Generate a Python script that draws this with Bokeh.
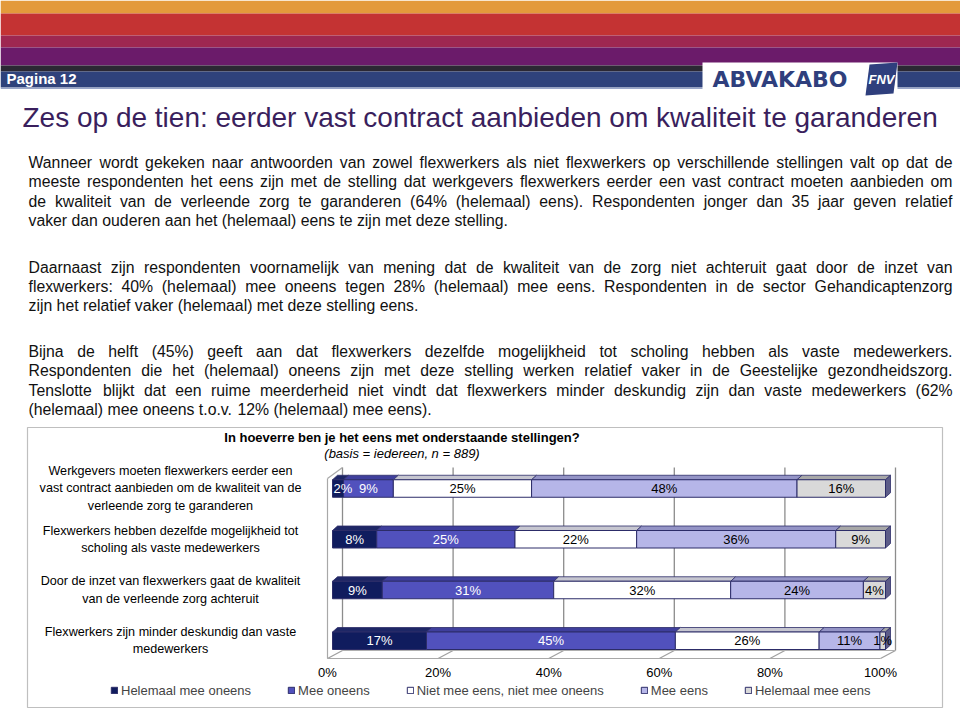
from bokeh.plotting import figure
from bokeh.models import Range1d, ColumnDataSource, Legend, LegendItem
from bokeh.layouts import column
from bokeh.core.properties import value
from bokeh.embed import file_html
from bokeh.resources import INLINE

# ------------------------------------------------------------------ data
page_label = "Pagina 12"
logo_text = "ABVAKABO"
logo_mark = "FNV"
page_title = "Zes op de tien: eerder vast contract aanbieden om kwaliteit te garanderen"

paragraphs = [
    [
        "Wanneer wordt gekeken naar antwoorden van zowel flexwerkers als niet flexwerkers op verschillende stellingen valt op dat de",
        "meeste respondenten het eens zijn met de stelling dat werkgevers flexwerkers eerder een vast contract moeten aanbieden om",
        "de kwaliteit van de verleende zorg te garanderen (64% (helemaal) eens). Respondenten jonger dan 35 jaar geven relatief",
        "vaker dan ouderen aan het (helemaal) eens te zijn met deze stelling.",
    ],
    [
        "Daarnaast zijn respondenten voornamelijk van mening dat de kwaliteit van de zorg niet achteruit gaat door de inzet van",
        "flexwerkers: 40% (helemaal) mee oneens tegen 28% (helemaal) mee eens. Respondenten in de sector Gehandicaptenzorg",
        "zijn het relatief vaker (helemaal) met deze stelling eens.",
    ],
    [
        "Bijna de helft (45%) geeft aan dat flexwerkers dezelfde mogelijkheid tot scholing hebben als vaste medewerkers.",
        "Respondenten die het (helemaal) oneens zijn met deze stelling werken relatief vaker in de Geestelijke gezondheidszorg.",
        "Tenslotte blijkt dat een ruime meerderheid niet vindt dat flexwerkers minder deskundig zijn dan vaste medewerkers (62%",
        "(helemaal) mee oneens t.o.v. 12% (helemaal) mee eens).",
    ],
]

chart_title = "In hoeverre ben je het eens met onderstaande stellingen?"
chart_subtitle = "(basis = iedereen, n = 889)"

statements = [
    "Werkgevers moeten flexwerkers eerder een\nvast contract aanbieden om de kwaliteit van de\nverleende zorg te garanderen",
    "Flexwerkers hebben dezelfde mogelijkheid tot\nscholing als vaste medewerkers",
    "Door de inzet van flexwerkers gaat de kwaliteit\nvan de verleende zorg achteruit",
    "Flexwerkers zijn minder deskundig dan vaste\nmedewerkers",
]
series_names = ["Helemaal mee oneens", "Mee oneens", "Niet mee eens, niet mee oneens",
                "Mee eens", "Helemaal mee eens"]
helemaal_mee_oneens = [2, 8, 9, 17]
mee_oneens = [9, 25, 31, 45]
neutraal = [25, 22, 32, 26]
mee_eens = [48, 36, 24, 11]
helemaal_mee_eens = [16, 9, 4, 1]
tick_values = [0, 20, 40, 60, 80, 100]
tick_labels = ["0%", "20%", "40%", "60%", "80%", "100%"]

# ------------------------------------------------------------------ styles
FONT = "Liberation Sans"
series_colors = ["#101c5e", "#5151bd", "#ffffff", "#b6b6e8", "#d9d9d9"]
top_colors = ["#1e2766", "#3f3f9c", "#c6c6d0", "#9494c6", "#a8a8a8"]
label_colors = ["white", "white", "black", "black", "black"]
OUTLINE = "#2c2c68"

# Arial / Liberation Sans advance widths (per 1000 em)
AW = {' ': 278, '!': 278, '%': 889, '(': 333, ')': 333, ',': 278, '-': 333, '.': 278,
      ':': 278, '?': 556, '=': 584,
      'A': 667, 'B': 667, 'C': 722, 'D': 722, 'E': 667, 'F': 611, 'G': 778, 'H': 722,
      'I': 278, 'J': 500, 'K': 667, 'L': 556, 'M': 833, 'N': 722, 'O': 778, 'P': 667,
      'Q': 778, 'R': 722, 'S': 667, 'T': 611, 'U': 722, 'V': 667, 'W': 944, 'X': 667,
      'Y': 667, 'Z': 611,
      'a': 556, 'b': 556, 'c': 500, 'd': 556, 'e': 556, 'f': 278, 'g': 556, 'h': 556,
      'i': 222, 'j': 222, 'k': 500, 'l': 222, 'm': 833, 'n': 556, 'o': 556, 'p': 556,
      'q': 556, 'r': 333, 's': 500, 't': 278, 'u': 556, 'v': 500, 'w': 722, 'x': 500,
      'y': 500, 'z': 500}


def em_width(s):
    return sum(AW.get(c, 556) for c in s) / 1000.0


# ------------------------------------------------------------------ page figure
PAGE_W, TOP_H = 960, 425
p1 = figure(width=PAGE_W, height=TOP_H, x_range=Range1d(0, 960), y_range=Range1d(425, 0),
            output_backend="svg", toolbar_location=None, min_border=0,
            x_axis_location=None, y_axis_location=None)
p1.grid.visible = False
p1.outline_line_color = None
p1.background_fill_color = "white"

bands = [(0, 13, "#e39a3b"), (13, 35, "#c43333"), (35, 47, "#9e2751"), (47, 65, "#6b1b6a"),
         (65, 71, "#2b2833"), (71, 87, "#2f427b"), (87, 88.5, "#9aa6c8")]
p1.quad(left=[0] * len(bands), right=[960] * len(bands),
        top=[b[0] for b in bands], bottom=[b[1] for b in bands],
        fill_color=[b[2] for b in bands], line_color=None)
# logo box
p1.quad(left=[702], right=[897], top=[62], bottom=[95], fill_color="white", line_color=None)
p1.text(x=[712], y=[79], text=[logo_text], text_font=value("DejaVu Sans"),
        text_font_style="bold", text_font_size="22px", text_color="#2f3f7d",
        text_baseline="middle", text_align="left")
p1.patch(x=[869, 897, 893, 865], y=[64, 62, 93, 95], fill_color="#2f3f7d", line_color=None)
p1.text(x=[881], y=[79], text=[logo_mark], text_font=value(FONT), text_font_style="bold italic",
        text_font_size="13px", text_color="white", text_baseline="middle", text_align="center")
p1.text(x=[6], y=[78], text=[page_label], text_font=value(FONT), text_font_style="bold",
        text_font_size="15px", text_color="white", text_baseline="middle", text_align="left")
p1.text(x=[22], y=[117], text=[page_title], text_font=value(FONT), text_font_size="28px",
        text_color="#3a1f5d", text_baseline="middle", text_align="left")

# justified paragraphs
LEFT, RIGHT = 28, 952
TARGET = RIGHT - LEFT
para_tops = [162, 266.5, 351]
LINE_STEP = 19.3
just_lines = [ln for para in paragraphs for ln in para[:-1]]
# allow word gaps to shrink to 60 % of a normal space on the tightest line
max_em = max(em_width(ln.replace(" ", "")) + 0.6 * 0.278 * ln.count(" ") for ln in just_lines)
fsize = min(15.8, TARGET / max_em)
wx, wy, wt = [], [], []
for para, ytop in zip(paragraphs, para_tops):
    for li, ln in enumerate(para):
        y = ytop + li * LINE_STEP
        words = ln.split(" ")
        widths = [em_width(w) * fsize for w in words]
        if li < len(para) - 1 and len(words) > 1:
            gap = (TARGET - sum(widths)) / (len(words) - 1)
        else:
            gap = AW[' '] / 1000.0 * fsize
        x = LEFT
        for w, ww in zip(words, widths):
            wx.append(x)
            wy.append(y)
            wt.append(w)
            x += ww + gap
p1.text(x=wx, y=wy, text=wt, text_font=value(FONT), text_font_size=f"{fsize:.2f}px",
        text_color="#111111", text_baseline="middle", text_align="left")

# ------------------------------------------------------------------ chart figure
CH_H = 709 - TOP_H
X0, PXP = 332.0, 5.53        # screen x of 0 %, pixels per percent
Y0, RP = 488.0, 50.75        # screen y of first row centre, pixels per row
FIG_TOP = float(TOP_H)


def px_x(sx):
    return (sx - X0) / PXP


def px_y(sy):
    return (sy - Y0) / RP


p2 = figure(width=PAGE_W, height=CH_H,
            x_range=Range1d(px_x(0), px_x(960)),
            y_range=Range1d(px_y(FIG_TOP + CH_H), px_y(FIG_TOP)),
            output_backend="svg", toolbar_location=None, min_border=0,
            x_axis_location=None, y_axis_location=None)
p2.grid.visible = False
p2.outline_line_color = None

# chart border
p2.quad(left=[px_x(27)], right=[px_x(942)], top=[px_y(427)], bottom=[px_y(707)],
        fill_color=None, line_color="#bfbfbf", line_width=1.2)

p2.text(x=[px_x(401.5)], y=[px_y(437)], text=[chart_title], text_font=value(FONT),
        text_font_style="bold", text_font_size="13px", text_color="black",
        text_align="center", text_baseline="middle")
p2.text(x=[px_x(401.5)], y=[px_y(453)], text=[chart_subtitle], text_font=value(FONT),
        text_font_style="italic", text_font_size="13px", text_color="black",
        text_align="center", text_baseline="middle")

# 3-D walls / floor
DXB = 10 / PXP          # back wall shift (percent units)
DXF = -5 / PXP          # floor front shift
WALL_TOP = px_y(467)
FLOOR_BACK = px_y(650)
FLOOR_FRONT = px_y(658)
p2.segment(x0=[t + DXB for t in tick_values], x1=[t + DXB for t in tick_values],
           y0=[WALL_TOP] * len(tick_values), y1=[FLOOR_BACK] * len(tick_values),
           line_color="#8c8c8c", line_width=1.3)
p2.segment(x0=[t + DXF for t in tick_values], x1=[t + DXB for t in tick_values],
           y0=[FLOOR_FRONT] * len(tick_values), y1=[FLOOR_BACK] * len(tick_values),
           line_color="#a0a0a0", line_width=1.2)
p2.segment(x0=[tick_values[0] + DXF, tick_values[0] + DXF, tick_values[0] + DXF],
           x1=[tick_values[-1] + DXF, tick_values[0] + DXF, tick_values[0] + DXB],
           y0=[FLOOR_FRONT, FLOOR_FRONT, px_y(478)],
           y1=[FLOOR_FRONT, px_y(478), WALL_TOP],
           line_color="#a8a8a8", line_width=1.2)
p2.segment(x0=[tick_values[0] + DXB], x1=[tick_values[-1] + DXB],
           y0=[FLOOR_BACK], y1=[FLOOR_BACK], line_color="#b0b0b0", line_width=1)

# bars
rows = list(range(len(statements)))
keys = ["s0", "s1", "s2", "s3", "s4"]
values = [helemaal_mee_oneens, mee_oneens, neutraal, mee_eens, helemaal_mee_eens]
src = ColumnDataSource(dict(row=rows, **{k: v for k, v in zip(keys, values)}))
BAR_H = 17.5 / RP
DX3, DY3 = 5 / PXP, 4.5 / RP

# top faces + side face
pxs, pys, pcol = [], [], []
for r in rows:
    start = 0
    yt = r - BAR_H / 2
    yb = r + BAR_H / 2
    for k, vals in enumerate(values):
        end = start + vals[r]
        pxs.append([start, end, end + DX3, start + DX3])
        pys.append([yt, yt, yt - DY3, yt - DY3])
        pcol.append(top_colors[k])
        start = end
    pxs.append([start, start + DX3, start + DX3, start])
    pys.append([yt, yt - DY3, yb - DY3, yb])
    pcol.append("#5c5c88")
p2.patches(xs=pxs, ys=pys, fill_color=pcol, line_color=OUTLINE, line_width=0.8)

bar_renderers = p2.hbar_stack(keys, y="row", height=BAR_H, color=series_colors,
                              line_color=OUTLINE, line_width=1, source=src)

# value labels (kept inside the left edge of the chart)
LBL_SIZE = 13
lx, ly, lt, lc = [], [], [], []
for r in rows:
    start = 0
    for k, vals in enumerate(values):
        v = vals[r]
        txt = f"{v}%"
        half = em_width(txt) * LBL_SIZE / 2 / PXP
        lx.append(max(start + v / 2, half + 0.2))
        ly.append(r)
        lt.append(txt)
        lc.append(label_colors[k])
        start += v
p2.text(x=lx, y=ly, text=lt, text_color=lc, text_font=value(FONT),
        text_font_size=f"{LBL_SIZE}px", text_align="center", text_baseline="middle")

# statement labels
p2.text(x=[px_x(170)] * len(rows), y=rows, text=statements, text_font=value(FONT),
        text_font_size="12.6px", text_color="black", text_align="center",
        text_baseline="middle", text_line_height=1.22)

# tick labels
p2.text(x=[t + DXF for t in tick_values], y=[px_y(672)] * len(tick_values), text=tick_labels,
        text_font=value(FONT), text_font_size="13px", text_color="black",
        text_align="center", text_baseline="middle")

legend = Legend(items=[LegendItem(label=n, renderers=[r]) for n, r in zip(series_names, bar_renderers)],
                orientation="horizontal", location=(110, 9), border_line_color=None,
                background_fill_alpha=0, label_text_font=FONT, label_text_font_size="13px",
                glyph_width=8, glyph_height=8, label_standoff=3, spacing=36, padding=0,
                margin=0, label_height=20)
p2.add_layout(legend)

layout = column(p1, p2, spacing=0)
open("out.html", "w").write(file_html(layout, INLINE))
